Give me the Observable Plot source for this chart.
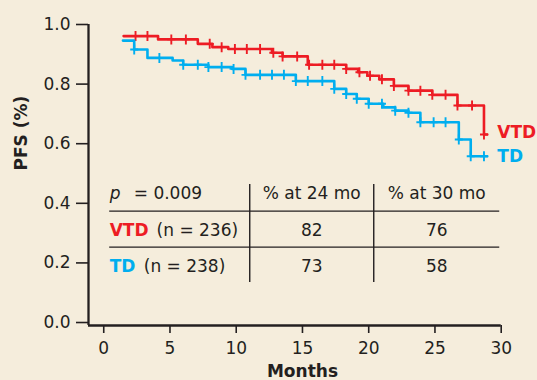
<!DOCTYPE html>
<html><head><meta charset="utf-8">
<script src="https://cdn.jsdelivr.net/npm/d3@7"></script>
<script src="https://cdn.jsdelivr.net/npm/@observablehq/plot@0.6"></script>
<style>
html,body{margin:0;padding:0;background:#f5eddc;}
#chart{width:537px;height:380px;overflow:hidden;}
</style></head><body><div id="chart"></div>
<script>
// ---- data ----
const xTicks = [0, 5, 10, 15, 20, 25, 30];
const yTicks = [0, 0.2, 0.4, 0.6, 0.8, 1.0];

const vtdStepTimes = [1.5, 4.1, 7.1, 8.2, 9.4, 12.7, 13.5, 15.4, 18.3, 19.2, 19.9, 20.8, 21.9, 23.0, 24.8, 26.7, 28.7];
const vtdStepSurv  = [0.961, 0.950, 0.935, 0.924, 0.918, 0.905, 0.893, 0.865, 0.851, 0.840, 0.828, 0.816, 0.794, 0.778, 0.764, 0.728, 0.631];
const vtdEnd = 28.95;
const vtdCensor = [2.4, 3.3, 5.1, 6.2, 8.0, 8.9, 9.9, 10.8, 11.8, 12.8, 13.5, 14.6, 15.5, 16.5, 17.4, 18.3, 19.3, 20.1, 21.0, 21.9, 23.0, 23.9, 24.8, 25.8, 26.7, 27.8, 28.7];

const tdStepTimes = [1.45, 2.3, 3.3, 5.2, 6.0, 7.9, 9.7, 10.7, 14.5, 17.4, 18.3, 19.1, 20.0, 21.1, 22.0, 23.0, 23.9, 26.8, 27.7];
const tdStepSurv  = [0.946, 0.916, 0.888, 0.879, 0.865, 0.857, 0.851, 0.831, 0.810, 0.784, 0.767, 0.751, 0.734, 0.722, 0.711, 0.704, 0.672, 0.614, 0.558];
const tdEnd = 28.95;
const tdCensor = [2.3, 4.2, 6.0, 7.1, 7.9, 8.9, 9.8, 10.7, 11.8, 12.7, 13.6, 14.5, 15.4, 16.5, 17.4, 18.3, 19.1, 20.0, 21.0, 22.0, 23.0, 23.9, 24.9, 25.8, 26.8, 27.7, 28.7];

const groupNames = ["VTD", "TD"];
const groupN = [236, 238];
const colHeaders = ["% at 24 mo", "% at 30 mo"];
const pct24 = [82, 73];
const pct30 = [76, 58];
const pValue = "0.009";

// ---- styles / layout ----
const RED = "#ed1c24", BLUE = "#00aeef", INK = "#231f20", BG = "#f5eddc";
const FONT = "DejaVu Sans";
const xDomain = [-1.15, 30], yDomain = [-0.01, 1];
// table layout in data coordinates
const T = {left: 0.45, right: 29.89, dividers: [11.02, 20.38], hLines: [0.3738, 0.2530],
           vTop: 0.463, vBottom: 0.1346, rowY: [0.434, 0.310, 0.187], pEqX: 2.265, nX: [3.99, 3.02]};

function survAt(times, surv, t) {
  let s = surv[0];
  for (let i = 0; i < times.length; i++) if (times[i] <= t + 0.05) s = surv[i];
  return s;
}
function build(name, color, times, surv, end, censor) {
  const line = times.map((t, i) => ({t, s: surv[i]}));
  line.push({t: end, s: surv[surv.length - 1]});
  const marks = censor.map(t => ({t, s: survAt(times, surv, t)}));
  return {name, color, line, marks, last: line[line.length - 1]};
}
const groups = [
  build("VTD", RED, vtdStepTimes, vtdStepSurv, vtdEnd, vtdCensor),
  build("TD", BLUE, tdStepTimes, tdStepSurv, tdEnd, tdCensor)
];

const plusSymbol = {
  draw(ctx, size) {
    const r = Math.sqrt(size / Math.PI);
    ctx.moveTo(0, -r); ctx.lineTo(0, r);
    ctx.moveTo(-r * 0.8, 0); ctx.lineTo(r * 0.8, 0);
  }
};

const colCenters = [(T.dividers[0] + T.dividers[1]) / 2, (T.dividers[1] + T.right) / 2];
const cells = [];
colHeaders.forEach((h, j) => cells.push({x: colCenters[j], y: T.rowY[0], text: h}));
[pct24, pct30].forEach((arr, j) => arr.forEach((v, i) => cells.push({x: colCenters[j], y: T.rowY[i + 1], text: String(v)})));
const nTexts = groupN.map((n, i) => ({x: T.nX[i], y: T.rowY[i + 1], text: `(n = ${n})`}));
nTexts.push({x: T.pEqX, y: T.rowY[0], text: `= ${pValue}`});

const marks = [
  Plot.ruleY([yDomain[0]], {stroke: INK, strokeWidth: 2.3}),
  Plot.ruleX([xDomain[0]], {stroke: INK, strokeWidth: 2.3}),
  Plot.axisX({ticks: xTicks, tickSize: 8, tickPadding: 8, label: null, stroke: INK, strokeWidth: 1.6, fill: INK}),
  Plot.axisY({ticks: yTicks, tickSize: 12, tickPadding: 6, tickFormat: d3.format(".1f"), label: null, stroke: INK, strokeWidth: 1.6, fill: INK}),
  Plot.text(["Months"], {x: (xTicks[0] + xTicks[xTicks.length - 1]) / 2, frameAnchor: "bottom", lineAnchor: "bottom", dy: 51, fontWeight: "bold", fill: INK}),
  Plot.text(["PFS (%)"], {frameAnchor: "left", y: (yTicks[0] + yTicks[yTicks.length - 1]) / 2, rotate: -90, dx: -67, dy: -3, fontWeight: "bold", fill: INK}),
  // table
  Plot.ruleY(T.hLines, {x1: T.left, x2: T.right, stroke: INK, strokeWidth: 1.4}),
  Plot.ruleX(T.dividers, {y1: T.vTop, y2: T.vBottom, stroke: INK, strokeWidth: 1.4}),
  Plot.text(["p"], {x: T.left, y: T.rowY[0], textAnchor: "start", fontStyle: "italic", fill: INK}),
  Plot.text(nTexts, {x: "x", y: "y", text: "text", textAnchor: "start", fill: INK}),
  Plot.text(cells, {x: "x", y: "y", text: "text", textAnchor: "middle", fill: INK})
];
groups.forEach((g, i) => {
  marks.push(
    Plot.line(g.line, {x: "t", y: "s", curve: "step-after", stroke: g.color, strokeWidth: 2.6}),
    Plot.dot(g.marks, {x: "t", y: "s", symbol: plusSymbol, r: 5, stroke: g.color, strokeWidth: 1.9, fill: "none"}),
    Plot.text([g.last], {x: "t", y: "s", text: () => g.name, textAnchor: "start", dx: 10, dy: i === 0 ? -2 : 0, fontWeight: "bold", fill: g.color}),
    Plot.text([g.name], {x: T.left, y: T.rowY[i + 1], textAnchor: "start", fontWeight: "bold", fill: g.color})
  );
});

const chart = Plot.plot({
  width: 537, height: 380,
  marginLeft: 88, marginRight: 36.3, marginTop: 24, marginBottom: 55,
  style: {background: BG, fontFamily: FONT, fontSize: "17px", color: INK, overflow: "visible"},
  x: {domain: xDomain},
  y: {domain: yDomain},
  marks
});
document.getElementById("chart").appendChild(chart);
</script></body></html>
